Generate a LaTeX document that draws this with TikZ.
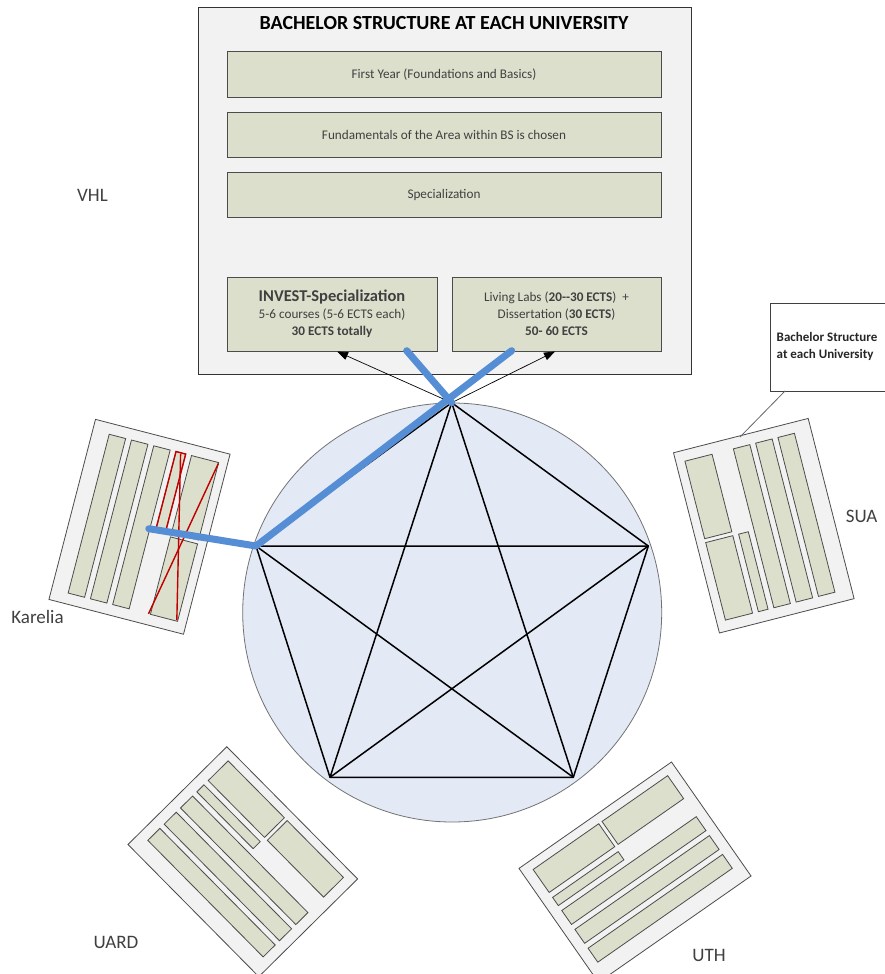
\documentclass[tikz,border=0pt]{standalone}
\usepackage{fontspec}
\setmainfont{Carlito}
\usetikzlibrary{arrows.meta}
\definecolor{panelgray}{RGB}{242,242,242}
\definecolor{sage}{RGB}{220,223,204}
\definecolor{circblue}{RGB}{227,233,245}
\definecolor{bluec}{RGB}{85,142,213}
\definecolor{redc}{RGB}{192,0,0}
\definecolor{textgray}{RGB}{64,64,64}
\tikzset{
  panel/.style={draw=black!80, fill=panelgray, line width=0.9pt, inner sep=0pt, outer sep=0pt},
  tier/.style={draw=black!70, fill=sage, line width=1pt, inner sep=0pt, outer sep=0pt, text=textgray, font=\fontsize{13.2}{17}\selectfont, align=center},
  docpaper/.style={draw=black!70, fill=panelgray, line width=0.8pt},
  docbar/.style={draw=black!70, fill=sage, line width=0.8pt},
  unidoc/.pic={
    \begin{scope}[shift={(-69.5,-93)}]
      \path[docpaper] (0,0) rectangle (139,186);
      \foreach \ua/\va/\ub/\vb in {17/11/34/175, 40/11/57/175, 63/11/80/175, 86/11/96/91, 102/11/130/91, 102/95/130/175}
        \path[docbar] (\ua,\va) rectangle (\ub,\vb);
    \end{scope}
  },
  unilabel/.style={font=\fontsize{19}{22}\selectfont, text=textgray, inner sep=0pt},
  starline/.style={draw=black, line width=1.5pt, line join=round},
  thinarrow/.style={draw=black, line width=0.7pt, -{Triangle[length=11pt,width=8pt]}},
  blueline/.style={draw=bluec, line width=7pt, line cap=round, line join=round},
  redline/.style={draw=redc, line width=1.4pt},
  callbox/.style={draw=black!75, fill=white, line width=0.9pt, inner sep=0pt}
}
\begin{document}
\begin{tikzpicture}[x=1pt,y=-1pt]
\useasboundingbox (0,0) rectangle (885,974);
\clip (0,0) rectangle (885,974);
\fill[white] (0,0) rectangle (885,974);

% main panel
\node[panel, minimum width=493pt, minimum height=367pt, anchor=north west] (frame) at (198,7) {};
\node[font=\fontsize{20}{24}\selectfont\bfseries, inner sep=0pt] (title) at (444,23) {BACHELOR STRUCTURE AT EACH UNIVERSITY};
\node[tier, minimum width=434pt, minimum height=45pt] (year1) at (444,74.5) {First Year (Foundations and Basics)};
\node[tier, minimum width=434pt, minimum height=45pt] (fund) at (444,134.5) {Fundamentals of the Area within BS is chosen};
\node[tier, minimum width=434pt, minimum height=45pt] (spec) at (444,194.5) {Specialization};
\node[tier, minimum width=210pt, minimum height=74pt] (invest) at (332,314)
  {{\fontsize{16.5}{18}\selectfont\bfseries INVEST-Specialization}\\5-6 courses (5-6 ECTS each)\\\textbf{30 ECTS totally}};
\node[tier, minimum width=209pt, minimum height=74pt] (labs) at (556.5,314)
  {Living Labs (\textbf{20-\kern0pt-30 ECTS})\ \ +\\Dissertation (\textbf{30 ECTS})\\\textbf{50- 60 ECTS}};

% circle and pentagon
\node[circle, draw=black!55, fill=circblue, line width=0.8pt, minimum size=419pt, inner sep=0pt] (ring) at (452.2,612.5) {};
\coordinate (P1) at (451.7,402.7);
\coordinate (P2) at (648.3,546);
\coordinate (P3) at (573.3,777.3);
\coordinate (P4) at (330,777.3);
\coordinate (P5) at (256,546);
\draw[starline] (P1) -- (P2) -- (P3) -- (P4) -- (P5) -- cycle;
\draw[starline] (P1) -- (P3) -- (P5) -- (P2) -- (P4) -- cycle;

% university documents
\pic[rotate=-14.5] at (139.5,526.8) {unidoc};
\begin{scope}[shift={(139.5,526.8)}, rotate=-14.5]
  \draw[redline] (16.5,-82) rectangle (26.5,-2);
  \draw[redline] (21.5,-81) -- (59.5,81);
  \draw[redline] (60.5,-81) -- (30.5,82);
  \coordinate (kblue) at (9.5,-0.5);
\end{scope}
\pic[rotate=194.3] at (763.8,525.7) {unidoc};
\pic[rotate=44.7] at (242.8,861.7) {unidoc};
\pic[rotate=124.9] at (635,872.2) {unidoc};

% labels
\node[unilabel] (vhl) at (92.5,195) {VHL};
\node[unilabel] (karelia) at (37.5,617) {Karelia};
\node[unilabel] (sua) at (861.7,516.7) {SUA};
\node[unilabel] (uard) at (116,942) {UARD};
\node[unilabel] (uth) at (709,955) {UTH};

% callout
\node[callbox, anchor=north west, minimum width=140pt, minimum height=88pt] (call) at (770,303) {};
\node[anchor=west, align=left, inner sep=0pt, font=\fontsize{13}{17}\selectfont\bfseries, text=black!85] (calltext) at (776.5,346.5) {Bachelor Structure\\at each University};
\coordinate (callroot) at (785,391);
\coordinate (callfoot) at (740,437);
\draw[black!60, line width=0.8pt] (callroot) -- (callfoot);

% arrows to the two specialisation boxes
\coordinate (tipL) at (337,351.5);
\coordinate (tipR) at (555,351.5);
\draw[thinarrow] (P1) -- (tipL);
\draw[thinarrow] (P1) -- (tipR);

% blue path
\coordinate (blueL) at (406.7,350.7);
\coordinate (blueR) at (511.7,350.7);
\draw[blueline] (kblue) -- (P5) -- (blueR);
\draw[blueline] (blueL) -- (P1);
\end{tikzpicture}
\end{document}
